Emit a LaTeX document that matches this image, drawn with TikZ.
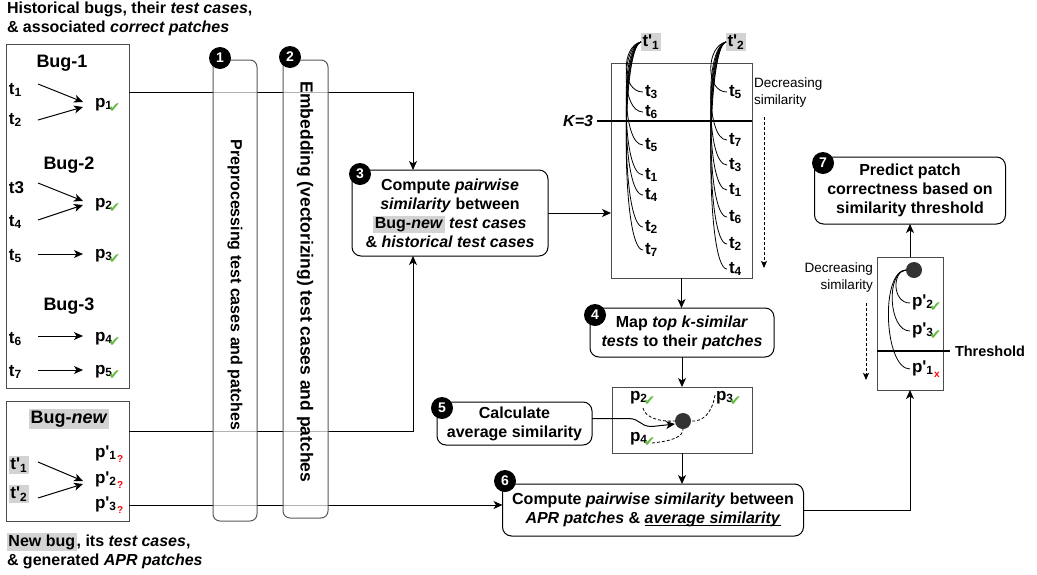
\documentclass[tikz,border=0pt]{standalone}
\usepackage{fontspec}
\setmainfont{Liberation Sans}
\newfontfamily\dejavu{DejaVu Sans}
\usetikzlibrary{arrows.meta,calc}
\definecolor{hlgray}{RGB}{211,211,211}
\definecolor{okgreen}{RGB}{102,187,68}
\definecolor{dotgray}{RGB}{51,51,51}
\newcommand\sbs[1]{\textsubscript{#1}}
\newcommand\pr{\textquotesingle}
\newcommand\hlt[1]{{\setlength{\fboxsep}{1.5pt}\colorbox{hlgray}{#1}}}
\newcommand\okm{\kern-4pt\raisebox{-5pt}{\dejavu\fontsize{14}{14}\selectfont\color{okgreen}\char"2714}}
\newcommand\qmk{\kern0.5pt\raisebox{-5.5pt}{\fontsize{10}{10}\selectfont\color{red}?}}
\newcommand\xmk{\kern0.5pt\raisebox{-5.5pt}{\fontsize{10}{10}\selectfont\color{red}x}}
\newcommand\ulin[1]{\underline{\smash{#1}}}
\begin{document}
\begin{tikzpicture}[x=1pt,y=-1pt,
  every node/.style={inner sep=0pt, outer sep=0pt},
  txt/.style={font=\bfseries\fontsize{16}{19}\selectfont, align=center},
  lbl/.style={font=\bfseries\fontsize{17}{18}\selectfont, anchor=west},
  itm/.style={lbl, outer sep=2pt},
  bugtitle/.style={font=\bfseries\fontsize{18}{20}\selectfont},
  dectext/.style={font=\fontsize{13.5}{17}\selectfont},
  box/.style={draw=black!70, line width=1pt},
  stepbox/.style={draw=black, line width=1pt, rounded corners=9pt, txt},
  stepnum/.style={circle, fill=black, text=white, minimum size=22pt, font=\bfseries\fontsize{14}{14}\selectfont},
  barbox/.style={draw=black!65, line width=1pt, rounded corners=7pt, fill=white, fill opacity=0.7},
  conn/.style={line width=1pt, draw=black},
  arr/.style={conn, -{Stealth[length=9pt,width=8pt,inset=2.5pt]}},
  tarr/.style={line width=1pt, -{Stealth[length=9pt,width=8pt,inset=2.5pt]}},
  darr/.style={line width=0.8pt, dash pattern=on 3pt off 2pt, -{Stealth[length=7pt,width=6pt,inset=1.5pt]}},
  tcurve/.style={line width=0.8pt},
  dcurve/.style={line width=0.8pt, dash pattern=on 3pt off 2pt},
  cutline/.style={line width=2pt},
  avgdot/.style={circle, fill=dotgray, minimum size=16pt},
]
\useasboundingbox (0,0) rectangle (1037,574);

% captions
\node[txt, align=left, anchor=north west] (captop) at (7,2) {Historical bugs, their \textit{test cases},\\\& associated \textit{correct patches}};
\node[txt, align=left, anchor=north west] (capbot) at (7,533) {\hlt{New bug}, its \textit{test cases},\\\& generated \textit{APR patches}};

% historical bugs
\node[box, minimum width=123pt, minimum height=344pt, anchor=north west] (hist) at (6,44) {};
\node[bugtitle] (bug1) at (62,63) {Bug-1};
\node[lbl] (t1) at (9,90) {t\sbs{1}};
\node[lbl] (t2) at (9,120) {t\sbs{2}};
\node[lbl] (p1) at (95,105) {p\sbs{1}\okm};
\node[bugtitle] (bug2) at (69,165) {Bug-2};
\node[lbl] (t3) at (9,188) {t3};
\node[lbl] (t4) at (9,222) {t\sbs{4}};
\node[lbl] (p2) at (95,205) {p\sbs{2}\okm};
\node[lbl] (t5) at (9,256) {t\sbs{5}};
\node[lbl] (p3) at (95,256) {p\sbs{3}\okm};
\node[bugtitle] (bug3) at (69,306) {Bug-3};
\node[lbl] (t6) at (9,339) {t\sbs{6}};
\node[lbl] (p4) at (95,339) {p\sbs{4}\okm};
\node[lbl] (t7) at (9,372) {t\sbs{7}};
\node[lbl] (p5) at (95,372) {p\sbs{5}\okm};
\draw[tarr] ($(t1.west)+(29,-6)$) -- ($(p1.west)+(-12,-3)$);
\draw[tarr] ($(t2.west)+(29,0)$) -- ($(p1.west)+(-12,2)$);
\draw[tarr] ($(t3.west)+(29,-5)$) -- ($(p2.west)+(-12,-4)$);
\draw[tarr] ($(t4.west)+(29,-2)$) -- ($(p2.west)+(-12,0)$);
\draw[tarr] ($(t5.west)+(29,-2)$) -- ($(p3.west)+(-12,-2)$);
\draw[tarr] ($(t6.west)+(29,-3)$) -- ($(p4.west)+(-12,-3)$);
\draw[tarr] ($(t7.west)+(29,-2)$) -- ($(p5.west)+(-12,-2)$);

% new bug
\node[box, minimum width=123pt, minimum height=120pt, anchor=north west] (new) at (6,401) {};
\node[bugtitle] (bugn) at (69,419) {\hlt{Bug-\textit{new}}};
\node[lbl] (tn1) at (9,465) {\hlt{t\pr\sbs{1}}};
\node[lbl] (tn2) at (9,494) {\hlt{t\pr\sbs{2}}};
\node[lbl] (pn1) at (95,454) {p\pr\sbs{1}\qmk};
\node[lbl] (pn2) at (95,480) {p\pr\sbs{2}\qmk};
\node[lbl] (pn3) at (95,505) {p\pr\sbs{3}\qmk};
\draw[tarr] ($(tn1.west)+(29,-3)$) -- ($(pn2.west)+(-12,1)$);
\draw[tarr] ($(tn2.west)+(29,4)$) -- ($(pn2.west)+(-12,4)$);

% step 3
\node[stepbox, minimum width=196pt, minimum height=86pt] (s3) at (450,213) {Compute \textit{pairwise}\\\textit{similarity} between\\\hlt{Bug-\textit{new}} \textit{test cases}\\\& \textit{historical test cases}};

% ranking box
\node[box, minimum width=141pt, minimum height=215pt] (rank) at (681.5,170.5) {};
\node[lbl] (tp1) at (641,42) {\hlt{t\pr\sbs{1}}};
\node[lbl] (tp2) at (726,42) {\hlt{t\pr\sbs{2}}};
\node[itm] (a3) at (643,92) {t\sbs{3}};
\node[itm] (a6) at (643,112) {t\sbs{6}};
\node[itm] (a5) at (643,145) {t\sbs{5}};
\node[itm] (a1) at (643,175) {t\sbs{1}};
\node[itm] (a4) at (643,195) {t\sbs{4}};
\node[itm] (a2) at (643,227) {t\sbs{2}};
\node[itm] (a7) at (643,250) {t\sbs{7}};
\node[itm] (b5) at (727,92) {t\sbs{5}};
\node[itm] (b7) at (727,140) {t\sbs{7}};
\node[itm] (b3) at (727,165) {t\sbs{3}};
\node[itm] (b1) at (727,190) {t\sbs{1}};
\node[itm] (b6) at (727,217) {t\sbs{6}};
\node[itm] (b2) at (727,244) {t\sbs{2}};
\node[itm] (b4) at (727,269) {t\sbs{4}};
\foreach \n in {a3,a6,a5,a1,a4,a2,a7}
  \draw[tcurve] (tp1.west) .. controls +(-20,4) and +(-22,0) .. (\n.west);
\foreach \n in {b5,b7,b3,b1,b6,b2,b4}
  \draw[tcurve] (tp2.west) .. controls +(-20,4) and +(-22,0) .. (\n.west);
\node[txt, anchor=east] (klbl) at (593,121) {\textit{K=3}};
\draw[cutline, shorten <=4pt] (klbl.east) -- (klbl.east -| rank.east);
\node[dectext, align=left, anchor=west] (dec1) at (754,93) {Decreasing\\similarity};
\coordinate (d1a) at (764,117);
\coordinate (d1b) at (764,268);
\draw[darr] (d1a) -- (d1b);

% step 4
\node[stepbox, minimum width=184pt, minimum height=49pt] (s4) at (682,332.5) {Map \textit{top k-similar}\\\textit{tests} to their \textit{patches}};

% cluster box
\node[box, minimum width=140pt, minimum height=66pt] (clus) at (682,420) {};
\node[avgdot] (cdot) at (683,421) {};
\node[lbl] (c2) at (630,398) {p\sbs{2}\okm};
\node[lbl] (c3) at (716,398) {p\sbs{3}\okm};
\node[lbl] (c4) at (630,439) {p\sbs{4}\okm};
\draw[dcurve] ($(c2.west)+(13,10)$) .. controls +(2,10) and +(-14,1) .. (cdot.west);
\draw[dcurve] ($(c3.west)+(-1,-3)$) .. controls +(-3,18) and +(12,1) .. (cdot.east);
\draw[dcurve] ($(c4.west)+(22,4)$) .. controls +(20,-2) and +(0,8) .. (cdot.south);

% step 5
\node[stepbox, minimum width=155pt, minimum height=43pt] (s5) at (514.5,423.5) {Calculate\\average similarity};

% step 6
\node[stepbox, minimum width=301pt, minimum height=52pt] (s6) at (653,510) {Compute \textit{pairwise similarity} between\\\textit{APR patches} \& \ulin{\textit{average similarity}}};

% threshold box
\node[box, minimum width=66pt, minimum height=133pt] (thr) at (910,323.5) {};
\node[avgdot] (tdot) at (914,270) {};
\node[itm] (q2) at (910,303) {p\pr\sbs{2}\okm};
\node[itm] (q3) at (910,331) {p\pr\sbs{3}\okm};
\node[itm] (q1) at (910,369) {p\pr\sbs{1}\xmk};
\draw[tcurve] (tdot.west) .. controls +(-14,1) and +(-18,0) .. (q2.west);
\draw[tcurve] (tdot.west) .. controls +(-20,1) and +(-22,0) .. (q3.west);
\draw[tcurve] (tdot.west) .. controls +(-26,1) and +(-26,0) .. (q1.west);
\node[txt, font=\bfseries\fontsize{14.5}{17}\selectfont, anchor=west] (thlbl) at (955,351) {Threshold};
\draw[cutline, shorten >=5pt] (thlbl.west -| thr.west) -- (thlbl.west);
\node[dectext, align=right, anchor=east] (dec2) at (873,278) {Decreasing\\similarity};
\coordinate (d2a) at (866,303);
\coordinate (d2b) at (866,380);
\draw[darr] (d2a) -- (d2b);

% step 7
\node[stepbox, minimum width=191pt, minimum height=67pt] (s7) at (910,190.5) {Predict patch\\correctness based on\\similarity threshold};

% connectors
\draw[arr] ($(hist.north east)+(0,48)$) -| ($(s3.north)+(-37,0)$);
\draw[arr] ($(new.north east)+(0,30)$) -| ($(s3.south)+(-37,0)$);
\draw[arr] (pn3.east -| new.east) -- (pn3.east -| s6.west);
\draw[arr] (s3.east) -- (s3.east -| rank.west);
\draw[arr] (rank.south) -- (rank.south |- s4.north);
\draw[arr] (s4.south) -- (s4.south |- clus.north);
\draw[arr] (clus.south) -- (clus.south |- s6.north);
\draw[arr] ($(s5.east)+(0,-5)$) -- ++(36,0) .. controls +(13,0) and +(-13,0) .. ++(24,8) -- ($(cdot.west)+(0,3)$);
\draw[arr] (s6.east) -| (thr.south);
\draw[arr] (thr.north) -- (thr.north |- s7.south);

% bars (steps 1 and 2)
\node[barbox, minimum width=44pt, minimum height=461pt] (bar1) at (235,290.5) {};
\node[txt, rotate=-90] (bar1t) at (235,285) {Preprocessing test cases and patches};
\node[barbox, minimum width=45pt, minimum height=458pt] (bar2) at (305.5,289) {};
\node[txt, font=\bfseries\fontsize{17.5}{20}\selectfont, rotate=-90] (bar2t) at (305,282) {Embedding (vectorizing) test cases and patches};

% step numbers
\node[stepnum] (n1) at (220,58) {1};
\node[stepnum] (n2) at (290,57) {2};
\node[stepnum] (n3) at (360,174) {3};
\node[stepnum] (n4) at (595,315) {4};
\node[stepnum] (n5) at (442,408) {5};
\node[stepnum] (n6) at (505,481) {6};
\node[stepnum] (n7) at (823,163) {7};
\end{tikzpicture}
\end{document}
